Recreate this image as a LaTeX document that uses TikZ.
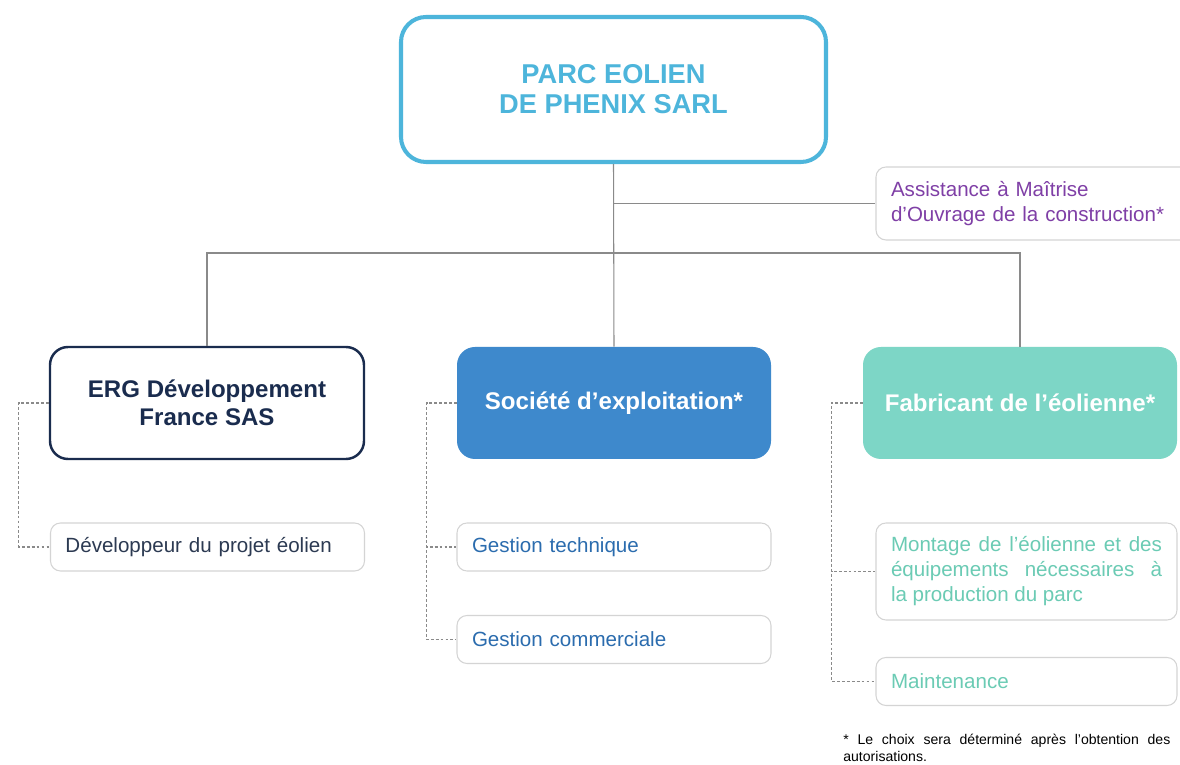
\documentclass[tikz,border=0pt]{standalone}
\usepackage{fontspec}
\setmainfont{Liberation Sans}
\usetikzlibrary{positioning,calc}

\definecolor{titleblue}{HTML}{4DB5DB}
\definecolor{navy}{HTML}{1A2C4E}
\definecolor{socblue}{HTML}{3E89CC}
\definecolor{fabgreen}{HTML}{7DD6C6}
\definecolor{linegray}{HTML}{8A8A8A}
\definecolor{boxgray}{HTML}{D4D4D4}
\definecolor{amopurple}{HTML}{7F3FA6}
\definecolor{gestblue}{HTML}{2B6CAE}
\definecolor{devtext}{HTML}{2C3A52}
\definecolor{montgreen}{HTML}{6BCBB4}

\begin{document}
\begin{tikzpicture}[
	line/.style={draw=linegray, line width=0.6pt},
	dline/.style={draw=linegray, line width=0.6pt, dash pattern=on 1.6pt off 1.2pt},
	bigbox/.style={rectangle, rounded corners=0.36cm, minimum width=6.28cm, minimum height=2.24cm, align=center, font=\fontsize{13.7}{16}\selectfont\bfseries},
	subbox/.style={rectangle, rounded corners=0.2cm, draw=boxgray, line width=0.6pt, fill=white, minimum height=0.96cm, inner xsep=0.3cm, text width=5.68cm, align=left, font=\fontsize{11.7}{14.2}\selectfont}]

    \useasboundingbox[fill=white] (0cm,0cm) rectangle (23.6cm,15.3cm);

    \node (PARC) at (12.27cm,13.51cm) [rectangle, rounded corners=0.5cm, draw=titleblue, line width=2.3pt, minimum width=8.5cm, minimum height=2.9cm, align=center, text=titleblue, font=\fontsize{15.5}{17}\selectfont\bfseries] {PARC EOLIEN\\DE PHENIX SARL};

    \node (AMO) at (20.66cm,11.23cm) [subbox, text=amopurple, minimum height=1.46cm] {Assistance à Maîtrise\\d'Ouvrage de la construction*};

    \node (ERG) at (4.14cm,7.24cm) [bigbox, draw=navy, line width=1.4pt, text=navy] {ERG Développement\\France SAS};
    \node (SOC) at (12.28cm,7.24cm) [bigbox, fill=socblue, text=white] {Société d’exploitation*};
    \node (FAB) at (20.4cm,7.24cm) [bigbox, fill=fabgreen, text=white] {Fabricant de l’éolienne*};

    \node (DEV) at (4.15cm,4.36cm) [subbox, text=devtext] {Développeur du projet éolien};
    \node (GT) at (12.28cm,4.36cm) [subbox, text=gestblue] {Gestion technique};
    \node (GC) at (12.28cm,2.51cm) [subbox, text=gestblue] {Gestion commerciale};
    \node (MONT) at (20.53cm,3.87cm) [subbox, text width=5.42cm, align=justify, text=montgreen, minimum height=1.94cm] {Montage de l’éolienne et des\linebreak équipements nécessaires à\linebreak la production du parc};
    \node (MAINT) at (20.53cm,1.67cm) [subbox, text width=5.42cm, text=montgreen] {Maintenance};

    \node (NOTE) at (16.86cm,0.34cm) [anchor=west, inner sep=0pt, text width=6.54cm, align=justify, font=\fontsize{8}{9.6}\selectfont] {* Le choix sera déterminé après l'obtention des\linebreak autorisations.};

    % liens hierarchiques
    \draw [line] (PARC.south) -- (SOC.north);
    \draw [line] (PARC.south |- AMO.west) -- (AMO.west);
    \coordinate (BUS) at (12.28cm,10.24cm);
    \draw [line] (ERG.north) |- (BUS) -| (FAB.north);

    % missions
    \draw [dline] (ERG.west) -- ++(-0.6cm,0) |- (DEV.west);
    \draw [dline] (SOC.west) -- ++(-0.6cm,0) |- (GT.west);
    \draw [dline] (SOC.west) -- ++(-0.6cm,0) |- (GC.west);
    \draw [dline] (FAB.west) -- ++(-0.62cm,0) |- (MONT.west);
    \draw [dline] (FAB.west) -- ++(-0.62cm,0) |- (MAINT.west);

\end{tikzpicture}
\end{document}
